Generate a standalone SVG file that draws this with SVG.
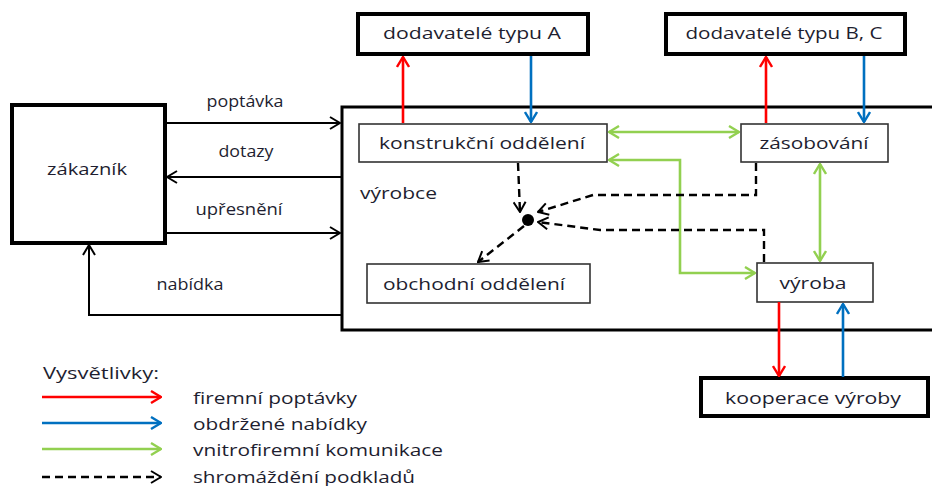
<svg xmlns="http://www.w3.org/2000/svg" width="932" height="486" viewBox="0 0 932 486">
<style>
text{font-family:"Open Sans","Liberation Sans",sans-serif;font-size:17px;fill:#1e1e30;dominant-baseline:central;}
.thick{fill:#fff;stroke:#000;stroke-width:4;}
.inner{fill:#fff;stroke:#333;stroke-width:1.6;}
.blk{fill:none;stroke:#000;stroke-width:2;}
.red{fill:none;stroke:#ff0000;stroke-width:2.6;}
.blue{fill:none;stroke:#0070c0;stroke-width:2.6;}
.grn{fill:none;stroke:#92d050;stroke-width:2.6;}
.dash{fill:none;stroke:#000;stroke-width:2.4;stroke-dasharray:8,5;}
</style>
<defs>
<marker id="ak" viewBox="0 0 12 14" refX="11" refY="7" markerWidth="12" markerHeight="14" markerUnits="userSpaceOnUse" orient="auto-start-reverse"><path d="M1,1 L11,7 L1,13" fill="none" stroke="#000" stroke-width="2"/></marker>
<marker id="ar" viewBox="0 0 12 14" refX="11" refY="7" markerWidth="12" markerHeight="14" markerUnits="userSpaceOnUse" orient="auto-start-reverse"><path d="M1,1 L11,7 L1,13" fill="none" stroke="#ff0000" stroke-width="2.4"/></marker>
<marker id="ab" viewBox="0 0 12 14" refX="11" refY="7" markerWidth="12" markerHeight="14" markerUnits="userSpaceOnUse" orient="auto-start-reverse"><path d="M1,1 L11,7 L1,13" fill="none" stroke="#0070c0" stroke-width="2.4"/></marker>
<marker id="ag" viewBox="0 0 12 14" refX="11" refY="7" markerWidth="12" markerHeight="14" markerUnits="userSpaceOnUse" orient="auto-start-reverse"><path d="M1,1 L11,7 L1,13" fill="none" stroke="#92d050" stroke-width="2.4"/></marker>
</defs>
<rect width="932" height="486" fill="#fff"/>

<g id="vyrobce">
<rect x="342" y="107" width="600" height="223" fill="#fff" stroke="#000" stroke-width="3"/>
<text x="360" y="192" textLength="77" lengthAdjust="spacingAndGlyphs">výrobce</text>
</g>
<g id="dodavatele-a">
<rect class="thick" x="358" y="14" width="230" height="40"/>
<text x="472" y="32" text-anchor="middle" textLength="178" lengthAdjust="spacingAndGlyphs">dodavatelé typu A</text>
</g>
<g id="dodavatele-bc">
<rect class="thick" x="666" y="14" width="239" height="40"/>
<text x="784" y="32" text-anchor="middle" textLength="197" lengthAdjust="spacingAndGlyphs">dodavatelé typu B, C</text>
</g>
<g id="zakaznik">
<rect class="thick" x="12" y="105" width="153" height="138"/>
<text x="87" y="168" text-anchor="middle" textLength="80" lengthAdjust="spacingAndGlyphs">zákazník</text>
</g>
<g id="konstrukcni">
<rect class="inner" x="359" y="124" width="248" height="38"/>
<text x="482" y="142" text-anchor="middle" textLength="206" lengthAdjust="spacingAndGlyphs">konstrukční oddělení</text>
</g>
<g id="zasobovani">
<rect class="inner" x="741" y="124" width="147" height="38"/>
<text x="814" y="142" text-anchor="middle" textLength="109" lengthAdjust="spacingAndGlyphs">zásobování</text>
</g>
<g id="obchodni">
<rect class="inner" x="367" y="264" width="223" height="39"/>
<text x="474" y="283" text-anchor="middle" textLength="182" lengthAdjust="spacingAndGlyphs">obchodní oddělení</text>
</g>
<g id="vyroba">
<rect class="inner" x="757" y="263" width="116" height="39"/>
<text x="813" y="282" text-anchor="middle" textLength="67" lengthAdjust="spacingAndGlyphs">výroba</text>
</g>
<g id="kooperace">
<rect class="thick" x="701" y="378" width="227" height="38"/>
<text x="813" y="397" text-anchor="middle" textLength="176" lengthAdjust="spacingAndGlyphs">kooperace výroby</text>
</g>

<g id="connectors">
<path class="blk" d="M165,123 H340" marker-end="url(#ak)"/>
<path class="blk" d="M342,177 H167" marker-end="url(#ak)"/>
<path class="blk" d="M165,233 H340" marker-end="url(#ak)"/>
<path class="blk" d="M342,315 H89 V245" marker-end="url(#ak)"/>
<text x="245" y="100" text-anchor="middle" textLength="77" lengthAdjust="spacingAndGlyphs">poptávka</text>
<text x="246" y="150" text-anchor="middle" textLength="55" lengthAdjust="spacingAndGlyphs">dotazy</text>
<text x="239" y="208" text-anchor="middle" textLength="87" lengthAdjust="spacingAndGlyphs">upřesnění</text>
<text x="190" y="283" text-anchor="middle" textLength="67" lengthAdjust="spacingAndGlyphs">nabídka</text>

<path class="red" d="M403,123 V57" marker-end="url(#ar)"/>
<path class="blue" d="M531,56 V122" marker-end="url(#ab)"/>
<path class="red" d="M766,123 V57" marker-end="url(#ar)"/>
<path class="blue" d="M864,56 V122" marker-end="url(#ab)"/>
<path class="red" d="M779,302 V376" marker-end="url(#ar)"/>
<path class="blue" d="M843,377 V304" marker-end="url(#ab)"/>

<path class="grn" d="M609,132 H739" marker-start="url(#ag)" marker-end="url(#ag)"/>
<path class="grn" d="M609,160 H680 V273 H755" marker-start="url(#ag)" marker-end="url(#ag)"/>
<path class="grn" d="M820,164 V261" marker-start="url(#ag)" marker-end="url(#ag)"/>

<path class="dash" d="M518,163 L520,212" marker-end="url(#ak)"/>
<path class="dash" d="M756,163 V195 H593 L538,212" marker-end="url(#ak)"/>
<path class="dash" d="M764,262 V230 H600 L538,222" marker-end="url(#ak)"/>
<path class="dash" d="M524,226 L478,262" marker-end="url(#ak)"/>
<circle cx="528" cy="220" r="6" fill="#000"/>
</g>

<g id="legend">
<text x="43" y="372" textLength="116" lengthAdjust="spacingAndGlyphs">Vysvětlivky:</text>
<path class="red" d="M42,397 H161" marker-end="url(#ar)"/>
<path class="blue" d="M42,423 H161" marker-end="url(#ab)"/>
<path class="grn" d="M42,449 H161" marker-end="url(#ag)"/>
<path class="dash" d="M42,477 H161" marker-end="url(#ak)"/>
<text x="193" y="397" textLength="164" lengthAdjust="spacingAndGlyphs">firemní poptávky</text>
<text x="193" y="423" textLength="174" lengthAdjust="spacingAndGlyphs">obdržené nabídky</text>
<text x="193" y="449" textLength="250" lengthAdjust="spacingAndGlyphs">vnitrofiremní komunikace</text>
<text x="193" y="476" textLength="222" lengthAdjust="spacingAndGlyphs">shromáždění podkladů</text>
</g>
</svg>
